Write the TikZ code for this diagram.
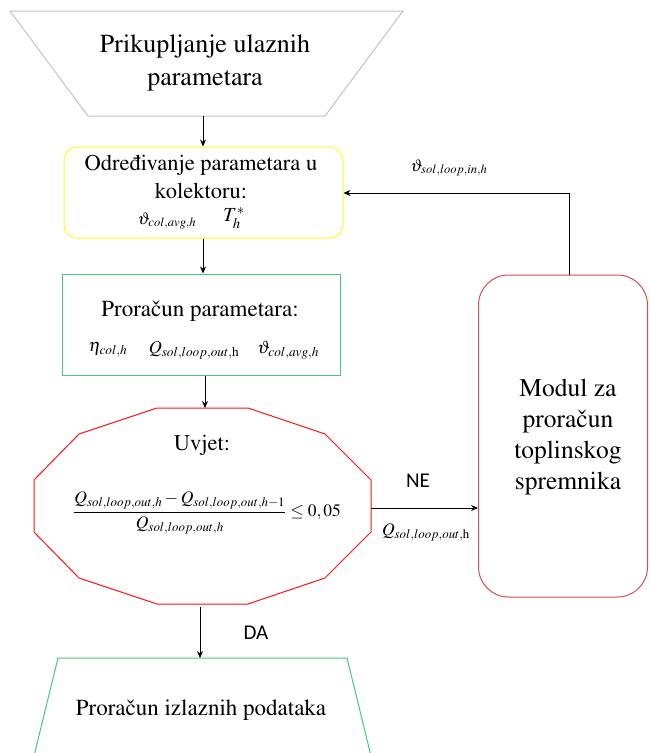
\documentclass[tikz,border=0pt]{standalone}
\usepackage[T1]{fontenc}
\usepackage{mathptmx}
\usepackage{fontspec}
\newfontfamily\calib{Carlito}
\newcommand{\tms}{\fontencoding{T1}\fontfamily{ptm}\fontseries{m}\fontshape{n}}
\usetikzlibrary{arrows.meta}
\definecolor{boxgray}{RGB}{195,195,195}
\definecolor{boxyellow}{RGB}{255,250,40}
\definecolor{boxgreen}{RGB}{70,200,125}
\definecolor{boxred}{RGB}{255,20,20}
\definecolor{modred}{RGB}{220,75,75}
\tikzset{
  conn/.style={draw=black, line width=0.8pt, -{Stealth[length=7pt,width=6pt]}},
  txt/.style={align=center, inner sep=0pt},
  lbl/.style={font=\calib\fontsize{21}{24}\selectfont, inner sep=0pt},
  mathlbl/.style={font=\fontsize{17}{20}\selectfont, inner sep=0pt},
}
\begin{document}
\begin{tikzpicture}[x=1pt,y=-1pt]
\useasboundingbox (0,0) rectangle (649,753);
% input trapezoid
\draw[boxgray, line width=1pt] (10,11) -- (403,11) -- (325,116) -- (88,116) -- cycle;
\node[txt, font=\tms\fontsize{26}{33}\selectfont] (inp) at (205,63) {Prikupljanje ulaznih\\parametara};
\coordinate (inpb) at (203,116);
% yellow box
\node[draw=boxyellow, line width=1pt, rounded corners=13pt, minimum width=279pt, minimum height=91pt, inner sep=0pt] (col) at (203.5,192.5) {};
\node[txt, font=\tms\fontsize{22.5}{28}\selectfont] (coltxt) at (201,177) {Odre\dj ivanje parametara u\\kolektoru:};
\node[mathlbl] (colm1) at (167,221) {$\vartheta_{col,avg,h}$};
\node[mathlbl, font=\fontsize{20}{22}\selectfont] (colm2) at (234,218) {$T_h^{*}$};
% green box
\node[draw=boxgreen, line width=1pt, minimum width=278pt, minimum height=101pt, inner sep=0pt] (calc) at (201,324.5) {};
\node[txt, font=\tms\fontsize{23}{26}\selectfont] (calctxt) at (200,311) {Prora\v{c}un parametara:};
\node[mathlbl, font=\fontsize{18}{22}\selectfont] (cm1) at (108,350) {$\eta_{col,h}$};
\node[mathlbl, font=\fontsize{18}{22}\selectfont] (cm2) at (194,350) {$Q_{sol,loop,out,\mathrm{h}}$};
\node[mathlbl, font=\fontsize{18}{22}\selectfont] (cm3) at (288,350) {$\vartheta_{col,avg,h}$};
% condition dodecagon
\draw[boxred, line width=1pt] (157,408) -- (248,408) -- (325,434) -- (371,480) -- (371,532) -- (325,578) -- (248,604) -- (157,604) -- (79,578) -- (34,532) -- (34,480) -- (79,434) -- cycle;
\coordinate (condt) at (205,408);
\coordinate (condb) at (200,607);
\coordinate (condr) at (371,508);
\node[txt, font=\tms\fontsize{22.5}{26}\selectfont] (uvjet) at (202,445) {Uvjet:};
\node[mathlbl, font=\fontsize{17.5}{22}\selectfont] (frac) at (207,513) {$\displaystyle\frac{Q_{sol,loop,out,h}-Q_{sol,loop,out,h-1}}{Q_{sol,loop,out,h}}\leq 0,05$};
% module
\node[draw=modred, line width=1pt, rounded corners=30pt, minimum width=169pt, minimum height=322pt, inner sep=0pt] (mod) at (563,436) {};
\node[txt, font=\tms\fontsize{25.5}{31}\selectfont] (modtxt) at (568,437) {Modul za\\prora\v{c}un\\toplinskog\\spremnika};
% output trapezoid
\draw[boxgreen, line width=1pt] (58,658) -- (347,658) -- (372,760) -- (33,760) -- cycle;
\coordinate (outt) at (201,658);
\node[txt, font=\tms\fontsize{23}{26}\selectfont] (outtxt) at (201,710) {Prora\v{c}un izlaznih podataka};
% connectors
\draw[conn] (inpb) -- (inpb |- col.north);
\draw[conn] (col.south -| inpb) -- (calc.north -| inpb);
\draw[conn] (calc.south -| condt) -- (condt);
\draw[conn] (condb) -- (condb |- outt);
\node[lbl] (da) at (256,633) {DA};
\draw[conn] (condr) -- (condr -| mod.west);
\node[lbl] (ne) at (418,481) {NE};
\node[mathlbl, font=\fontsize{17.5}{20}\selectfont] (neq) at (426,532) {$Q_{sol,loop,out,\mathrm{h}}$};
\coordinate (modt) at (569,275);
\coordinate (fbk) at (569,193);
\draw[conn] (modt) -- (fbk) -- (col.east |- fbk);
\node[mathlbl] (fbq) at (449,168) {$\vartheta_{sol,loop,in,h}$};
\end{tikzpicture}
\end{document}
